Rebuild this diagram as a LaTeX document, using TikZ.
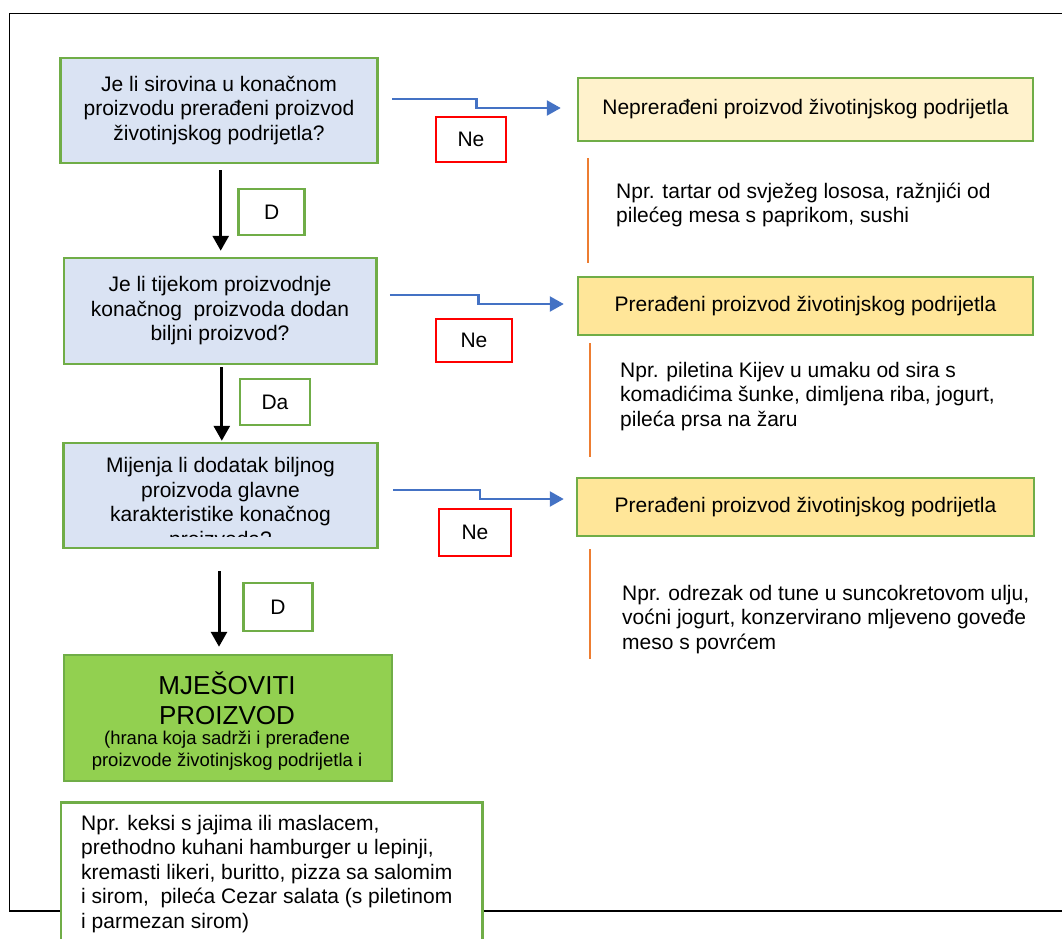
\documentclass[tikz,border=0pt]{standalone}
\usepackage{fontspec}
\setmainfont{Liberation Sans}
\usetikzlibrary{arrows.meta}
\definecolor{grn}{HTML}{70AD47}
\definecolor{qfill}{HTML}{DAE3F3}
\definecolor{lyel}{HTML}{FFF2CC}
\definecolor{dyel}{HTML}{FFE699}
\definecolor{mixg}{HTML}{92D050}
\definecolor{blu}{HTML}{4472C4}
\definecolor{org}{HTML}{ED7D31}
\definecolor{redb}{HTML}{FF0000}
\begin{document}
\begin{tikzpicture}[x=1pt,y=-1pt,
  basebox/.style={rectangle, inner sep=0pt, align=center, font=\fontsize{21}{24.5}\selectfont},
  qbox/.style={basebox, draw=grn, line width=2.5pt, fill=qfill},
  resbox/.style={basebox, draw=grn, line width=2.5pt},
  nebox/.style={basebox, draw=redb, line width=2pt, fill=white},
  dbox/.style={basebox, draw=grn, line width=2.5pt, fill=white},
  extxt/.style={inner sep=0pt, align=left, font=\fontsize{21}{24.5}\selectfont},
  blackarrow/.style={line width=3pt, -{Triangle[width=16pt,length=15pt]}},
  bluearrow/.style={draw=blu, line width=2.5pt, -{Triangle[width=15pt,length=14pt]}, color=blu},
  orgline/.style={draw=org, line width=2pt}]
\useasboundingbox (0,0) rectangle (1062,938);
\clip (0,0) rectangle (1062,938);
% outer frame
\draw[line width=1.5pt] (1070,13.3) -- (9.6,13.3) -- (9.6,911) -- (1070,911);

% question boxes
\node[qbox, minimum width=317pt, minimum height=105pt] (q1) at (219,110.5)
  {Je li sirovina u konačnom\\proizvodu prerađeni proizvod\\životinjskog podrijetla?};
\node[qbox, minimum width=312.5pt, minimum height=106pt] (q2) at (220,311)
  {Je li tijekom proizvodnje\\konačnog\ \ proizvoda dodan\\biljni proizvod?};
\node[qbox, minimum width=314pt, minimum height=105pt] (q3) at (220.5,495.5) {};
\begin{scope}
  \clip (65,444.5) rectangle (376,536);
  \node[basebox] (q3t) at (220.5,504)
    {Mijenja li dodatak biljnog\\proizvoda glavne\\karakteristike konačnog\\proizvoda?};
\end{scope}

% mixed product
\node[rectangle, draw=grn, line width=2.5pt, fill=mixg, minimum width=328pt, minimum height=126pt] (mix) at (228,718) {};
\node[inner sep=0pt, align=center, font=\fontsize{26}{30}\selectfont] (mixt1) at (227,698) {MJEŠOVITI\\PROIZVOD};
\node[inner sep=0pt, align=center, font=\fontsize{18.5}{22}\selectfont] (mixt2) at (227,751)
  {(hrana koja sadrži i prerađene\\proizvode životinjskog podrijetla i};

% example box bottom
\node[rectangle, draw=grn, line width=2.5pt, fill=white, anchor=north west, minimum width=421.4pt, minimum height=160pt] (ex) at (59.6,801) {};
\node[inner sep=0pt, align=left, anchor=west, font=\fontsize{21}{24.5}\selectfont] (ext) at (81,874)
  {Npr. keksi s jajima ili maslacem,\\prethodno kuhani hamburger u lepinji,\\kremasti likeri, buritto, pizza sa salomim\\i sirom,\ \ pileća Cezar salata (s piletinom\\i parmezan sirom)};

% result boxes
\node[resbox, fill=lyel, minimum width=455pt, minimum height=63pt] (n1) at (805.5,109.5) {Neprerađeni proizvod životinjskog podrijetla};
\node[resbox, fill=dyel, minimum width=455pt, minimum height=58pt] (p1) at (805.5,306) {Prerađeni proizvod životinjskog podrijetla};
\node[resbox, fill=dyel, minimum width=457pt, minimum height=58pt] (p2) at (805.5,507) {Prerađeni proizvod životinjskog podrijetla};

% Ne labels
\node[nebox, minimum width=70pt, minimum height=45pt] (ne1) at (471,139.5) {Ne};
\node[nebox, minimum width=76pt, minimum height=43pt] (ne2) at (474,340.5) {Ne};
\node[nebox, minimum width=72pt, minimum height=47pt] (ne3) at (475,532.5) {Ne};

% D labels
\node[dbox, minimum width=66pt, minimum height=46pt] (d1) at (271.6,212) {D};
\node[dbox, minimum width=70pt, minimum height=46pt] (da) at (275,402) {Da};
\node[dbox, minimum width=69pt, minimum height=48pt] (d3) at (278,607) {D};

% examples on the right
\draw[orgline] (587.5,158) -- (587.5,263);
\draw[orgline] (590,343) -- (590,457);
\draw[orgline] (590,549) -- (590,659);
\node[extxt, anchor=west] (e1) at (616,205) {Npr. tartar od svježeg lososa, ražnjići od\\pilećeg mesa s paprikom, sushi};
\node[extxt, anchor=west] (e2) at (620,396.5) {Npr. piletina Kijev u umaku od sira s\\komadićima šunke, dimljena riba, jogurt,\\pileća prsa na žaru};
\node[extxt, anchor=west] (e3) at (622,619.5) {Npr. odrezak od tune u suncokretovom ulju,\\voćni jogurt, konzervirano mljeveno goveđe\\meso s povrćem};

% black arrows
\draw[blackarrow] ([xshift=1.7pt,yshift=-6pt]q1.south) -- ([xshift=0.7pt,yshift=6pt]q2.north);
\draw[blackarrow] ([xshift=1.8pt,yshift=-2pt]q2.south) -- ([xshift=1.3pt,yshift=1pt]q3.north);
\draw[blackarrow] ([xshift=-1.5pt,yshift=-22pt]q3.south) -- ([xshift=-9pt,yshift=7pt]mix.north);

% blue arrows
\draw[bluearrow] ([xshift=13.5pt,yshift=11.5pt]q1.east) -- ++(84,0) |- ([xshift=-16pt,yshift=1.5pt]n1.west);
\draw[bluearrow] ([xshift=12.4pt,yshift=16pt]q2.east) -- ++(88.4,0) |- ([xshift=-13pt,yshift=2pt]p1.west);
\draw[bluearrow] ([xshift=14.5pt,yshift=5.5pt]q3.east) -- ++(86.6,0) |- ([xshift=-12pt,yshift=8pt]p2.west);
\end{tikzpicture}
\end{document}
